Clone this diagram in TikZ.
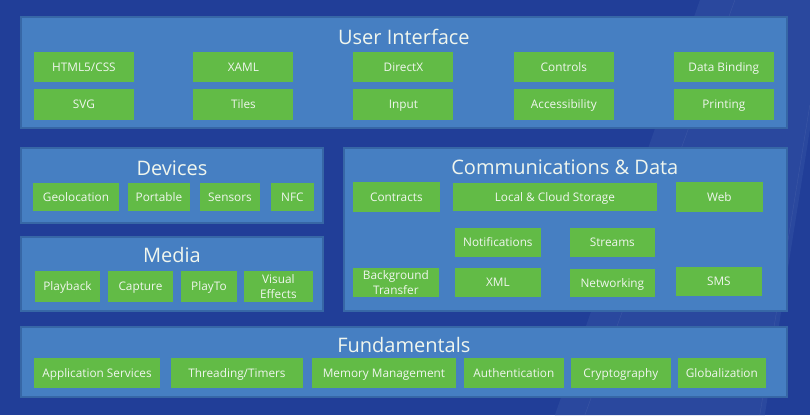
\documentclass[tikz,border=0pt]{standalone}
\usepackage{fontspec}
\setmainfont{Open Sans}
\usepackage{xcolor}
\usetikzlibrary{positioning}

\definecolor{bgblue}{HTML}{213E98}
\definecolor{bandblue}{HTML}{2A489E}
\definecolor{panelblue}{HTML}{467FC2}
\definecolor{paneledge}{HTML}{3767A6}
\definecolor{itemgreen}{HTML}{62BB46}
\definecolor{labelwhite}{HTML}{F0F6EE}

\begin{document}
\begin{tikzpicture}[x=1pt,y=-1pt,
  panel/.style={fill=panelblue,draw=paneledge,line width=2pt},
  title/.style={text=labelwhite,font=\fontsize{20}{22}\selectfont,inner sep=0pt,
    text height=16pt,text depth=2pt},
  box/.style={fill=itemgreen,text=labelwhite,inner sep=0pt,align=center,
    font=\fontsize{11.8}{15}\selectfont,minimum height=30pt},
  item/.style={box,text height=9.8pt,text depth=1.4pt},
  item2/.style={box}]

  % background and light band
  \fill[bgblue] (0,0) rectangle (810,415);
  \fill[bandblue] (700,0) -- (810,0) -- (810,130) -- (765,415) -- (555,415) -- cycle;
  \draw[bandblue!80!white,opacity=0.4] (735,0) -- (585,415);
  \draw[bandblue!80!white,opacity=0.4] (810,105) -- (760,415);

  % User Interface
  \path[panel] (21,17) rectangle (787,128);
  \node[title] (ui) at (404,37) {User Interface};
  \node[item,minimum width=100pt] (html) at (84,67) {HTML5/CSS};
  \node[item,minimum width=100pt] (xaml) at (243.5,67) {XAML};
  \node[item,minimum width=100pt] (directx) at (403.5,67) {DirectX};
  \node[item,minimum width=100pt] (controls) at (564,67) {Controls};
  \node[item,minimum width=100pt] (binding) at (724,67) {Data Binding};
  \node[item,minimum width=100pt,minimum height=31pt] (svg) at (84,104.5) {SVG};
  \node[item,minimum width=100pt,minimum height=31pt] (tiles) at (243.5,104.5) {Tiles};
  \node[item,minimum width=100pt,minimum height=31pt] (input) at (403.5,104.5) {Input};
  \node[item,minimum width=100pt,minimum height=31pt] (access) at (564,104.5) {Accessibility};
  \node[item,minimum width=100pt,minimum height=31pt] (printing) at (724,104.5) {Printing};

  % Devices
  \path[panel] (21,148) rectangle (323,223);
  \node[title] (devices) at (172,168) {Devices};
  \node[item,minimum width=86pt,minimum height=28pt] (geo) at (76,197) {Geolocation};
  \node[item,minimum width=62pt,minimum height=28pt] (portable) at (159,197) {Portable};
  \node[item,minimum width=60pt,minimum height=28pt] (sensors) at (230,197) {Sensors};
  \node[item,minimum width=43pt,minimum height=28pt] (nfc) at (292.5,197) {NFC};

  % Media
  \path[panel] (21,237) rectangle (323,311);
  \node[title] (media) at (172,255) {Media};
  \node[item,minimum width=65pt,minimum height=31pt] (playback) at (67.5,286.5) {Playback};
  \node[item,minimum width=65pt,minimum height=31pt] (capture) at (140.5,286.5) {Capture};
  \node[item,minimum width=56pt,minimum height=31pt] (playto) at (209,286.5) {PlayTo};
  \node[item2,minimum width=69pt,minimum height=31pt] (effects) at (278.5,286.5) {Visual\\Effects};

  % Communications & Data
  \path[panel] (344,148) rectangle (787,311);
  \node[title] (comm) at (565,167) {Communications \& Data};
  \node[item,minimum width=87pt] (contracts) at (396.5,197) {Contracts};
  \node[item,minimum width=204pt,minimum height=28pt] (storage) at (555,197) {Local \& Cloud Storage};
  \node[item,minimum width=87pt] (web) at (719.5,197) {Web};
  \node[item,minimum width=86pt,minimum height=29pt] (notify) at (498,242.5) {Notifications};
  \node[item,minimum width=85pt,minimum height=29pt] (streams) at (612.5,242.5) {Streams};
  \node[item2,minimum width=86pt,minimum height=29pt] (transfer) at (396,282.5) {Background\\Transfer};
  \node[item,minimum width=86pt,minimum height=29pt] (xml) at (498,282.5) {XML};
  \node[item,minimum width=85pt,minimum height=28pt] (network) at (612.5,283) {Networking};
  \node[item,minimum width=86pt,minimum height=29pt] (sms) at (719,281.5) {SMS};

  % Fundamentals
  \path[panel] (21,327) rectangle (787,397);
  \node[title] (fund) at (404,345) {Fundamentals};
  \node[item,minimum width=126pt] (appserv) at (97,373) {Application Services};
  \node[item,minimum width=132pt] (threading) at (237,373) {Threading/Timers};
  \node[item,minimum width=144pt] (memory) at (384,373) {Memory Management};
  \node[item,minimum width=100pt] (auth) at (514,373) {Authentication};
  \node[item,minimum width=100pt] (crypto) at (621,373) {Cryptography};
  \node[item,minimum width=88pt] (global) at (722,373) {Globalization};
\end{tikzpicture}
\end{document}
